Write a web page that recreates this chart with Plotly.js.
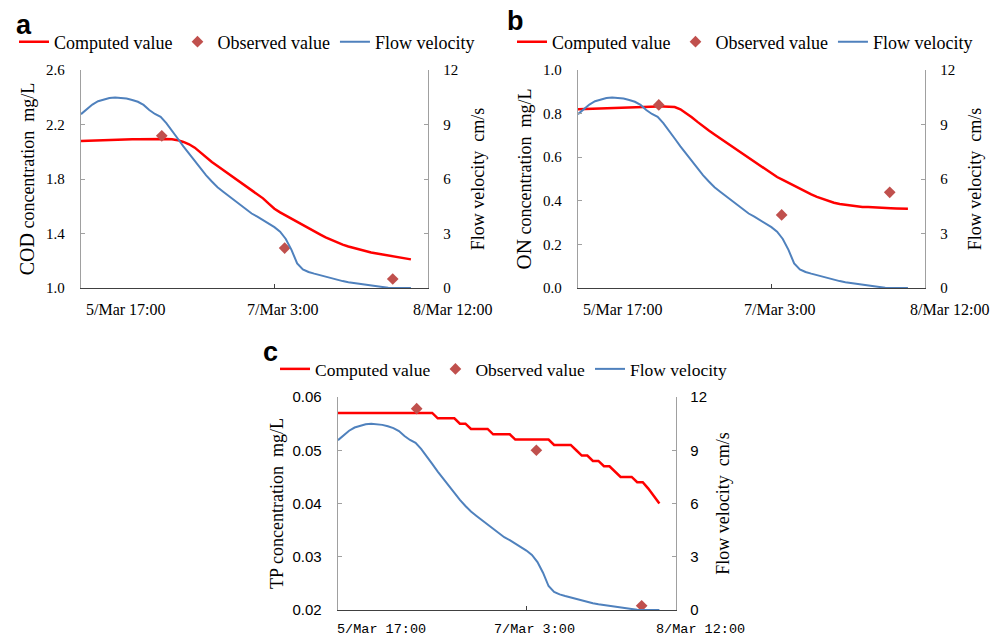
<!DOCTYPE html>
<html>
<head>
<meta charset="utf-8">
<script src="https://cdn.plot.ly/plotly-3.0.1.min.js"></script>
<style>
  html, body { margin: 0; padding: 0; background: #ffffff; }
  #chart { width: 1005px; height: 638px; }
</style>
</head>
<body>
<div id="chart"></div>
<script>
// Hours elapsed since 5/Mar 17:00
const hours = [0,1,2,3,4,5,6,7,8,9,10,11,12,13,14,15,16,17,18,19,20,21,22,23,24,25,26,27,28,29,
  30,31,32,33,34,35,36,37,38,39,40,41,42,43,44,45,46,47,48,49,50,51,52,53,54,55,56,57,58];

// Flow velocity, cm/s (shared by all three panels)
const flowVelocity = [9.57,9.85,10.10,10.28,10.39,10.46,10.49,10.47,10.43,10.35,10.25,10.08,9.80,9.58,9.42,
  9.08,8.68,8.23,7.80,7.40,6.98,6.55,6.20,5.86,5.55,5.30,5.05,4.81,4.57,4.33,
  4.10,3.93,3.74,3.55,3.35,3.10,2.70,2.10,1.35,1.02,0.88,0.79,0.70,0.61,0.52,
  0.45,0.38,0.32,0.27,0.23,0.18,0.14,0.10,0.06,0.02,0.00,0.00,0.00,0.00];

// Computed concentrations, mg/L
const codComputed = [2.078,2.080,2.081,2.083,2.084,2.086,2.087,2.089,2.090,2.091,2.092,2.093,2.093,2.093,2.093,
  2.093,2.092,2.085,2.072,2.055,2.030,1.995,1.958,1.925,1.896,1.867,1.838,1.808,1.779,1.750,
  1.722,1.693,1.658,1.619,1.582,1.555,1.531,1.507,1.484,1.461,1.437,1.415,1.393,1.371,1.352,
  1.334,1.318,1.305,1.293,1.280,1.270,1.261,1.253,1.245,1.237,1.230,1.223,1.216,1.210];

const onComputed = [0.820,0.821,0.822,0.824,0.825,0.826,0.827,0.828,0.829,0.830,0.831,0.831,0.832,0.832,0.832,
  0.832,0.832,0.830,0.820,0.803,0.783,0.762,0.741,0.722,0.704,0.686,0.668,0.649,0.631,0.613,
  0.595,0.577,0.559,0.541,0.523,0.509,0.496,0.482,0.468,0.454,0.441,0.429,0.418,0.408,0.399,
  0.391,0.385,0.381,0.377,0.374,0.372,0.371,0.369,0.368,0.367,0.366,0.365,0.365,0.364];

const tpComputed = [0.057,0.057,0.057,0.057,0.057,0.057,0.057,0.057,0.057,0.057,0.057,0.057,0.057,0.057,0.057,
  0.057,0.057,0.057,0.056,0.056,0.056,0.056,0.055,0.055,0.054,0.054,0.054,0.054,0.053,0.053,
  0.053,0.053,0.052,0.052,0.052,0.052,0.052,0.052,0.052,0.051,0.051,0.051,0.051,0.050,0.049,
  0.049,0.048,0.048,0.047,0.047,0.046,0.045,0.045,0.045,0.044,0.044,0.0428,0.0414,0.040];

// Observed samples
const observedHours = [14.2, 35.8, 54.8];
const codObserved = [2.117, 1.293, 1.066];
const onObserved = [0.840, 0.335, 0.439];
const tpObserved = [0.0578, 0.0500, 0.0208];

// Time-axis labels and where they sit along the time axis (hours)
const timeLabels = ['5/Mar 17:00', '7/Mar 3:00', '8/Mar 12:00'];
const timeLabelPos = [7.9, 35.5, 65.4];
const midTick = [34];

const W = 1005, H = 638;
const fx = p => p / W;
const fy = p => 1 - p / H;

const RED = '#FF0000', BLUE = '#4F81BD', OBS = '#C0504D';
const XLINE = '#404040', YLINE = '#A0A0A0';
const SERIF = 'Liberation Serif, Times New Roman, serif';
const SANS = 'Liberation Sans, Arial, sans-serif';
const MONO = 'Liberation Mono, Courier New, monospace';
const XMAX = 61;

function seriesFor(computed, observed, xa, yl, yr, legendId) {
  return [
    { x: hours, y: computed, xaxis: xa, yaxis: yl, type: 'scatter', mode: 'lines',
      name: 'Computed value', legend: legendId, line: { color: RED, width: 2.5 } },
    { x: observedHours, y: observed, xaxis: xa, yaxis: yl, type: 'scatter', mode: 'markers',
      name: 'Observed value', legend: legendId,
      marker: { symbol: 'diamond', size: 9, color: OBS } },
    { x: hours, y: flowVelocity, xaxis: xa, yaxis: yr, type: 'scatter', mode: 'lines',
      name: 'Flow velocity', legend: legendId, line: { color: BLUE, width: 2 } }
  ];
}

const data = [].concat(
  seriesFor(codComputed, codObserved, 'x', 'y', 'y2', 'legend'),
  seriesFor(onComputed, onObserved, 'x2', 'y3', 'y4', 'legend2'),
  seriesFor(tpComputed, tpObserved, 'x3', 'y5', 'y6', 'legend3')
);

function mainX(left, right, yId) {
  return { domain: [fx(left), fx(right)], range: [0, XMAX], anchor: yId,
    tickmode: 'array', tickvals: midTick, ticktext: [''], showticklabels: false,
    ticks: 'inside', ticklen: 4, tickcolor: XLINE, tickwidth: 1,
    showline: true, linecolor: XLINE, linewidth: 1.4,
    showgrid: false, zeroline: false, fixedrange: true };
}
function leftY(xId, top, bottom, range, dtick, fmt, title, tickFont, standoffLbl, standoffTitle) {
  return { anchor: xId, domain: [fy(bottom), fy(top)], range: range, tickmode: 'linear', tick0: range[0], dtick: dtick,
    tickformat: fmt, ticks: 'inside', ticklen: 4, tickcolor: YLINE,
    showline: true, linecolor: YLINE, linewidth: 1.3, showgrid: false, zeroline: false,
    tickfont: tickFont, ticklabelstandoff: standoffLbl,
    title: { text: title, font: { family: SERIF, size: 18, color: '#000' }, standoff: standoffTitle },
    fixedrange: true };
}
function rightY(overlay, xId, tickFont, standoffLbl, standoffTitle) {
  return { overlaying: overlay, side: 'right', anchor: xId, range: [0, 12], tickmode: 'linear', tick0: 0, dtick: 3,
    ticks: 'inside', ticklen: 4, tickcolor: YLINE,
    showline: true, linecolor: YLINE, linewidth: 1.3, showgrid: false, zeroline: false,
    tickfont: tickFont, ticklabelstandoff: standoffLbl,
    title: { text: 'Flow velocity\u00a0\u00a0cm/s', font: { family: SERIF, size: 18, color: '#000' }, standoff: standoffTitle },
    fixedrange: true };
}
function legendAt(left, midY, size) {
  return { orientation: 'h', x: fx(left), y: fy(midY), xanchor: 'left', yanchor: 'middle',
    bgcolor: 'rgba(0,0,0,0)', borderwidth: 0, itemwidth: 30, itemclick: false, itemdoubleclick: false,
    font: { family: SERIF, size: size, color: '#000' }, tracegroupgap: 0 };
}
// Time labels along each panel's time axis, positioned in axis-domain fractions
function timeLabelAnnotations(xId, yId, font, drop) {
  return timeLabels.map((t, i) => ({
    text: t, xref: xId + ' domain', yref: yId + ' domain',
    x: timeLabelPos[i] / XMAX, y: 0, xanchor: 'center', yanchor: 'top', yshift: -drop,
    showarrow: false, font: font
  }));
}

const serifTick = { family: SERIF, size: 15, color: '#000' };
const timeFont = { family: SERIF, size: 16, color: '#000' };
const sansTick = { family: SANS, size: 15, color: '#000' };
const monoTick = { family: MONO, size: 13.5, color: '#000' };
const panelFont = { family: SANS, size: 27, color: '#000' };

const layout = {
  width: W, height: H,
  margin: { l: 0, r: 0, t: 0, b: 0 },
  paper_bgcolor: '#ffffff', plot_bgcolor: 'rgba(0,0,0,0)',
  showlegend: true,
  font: { family: SERIF, color: '#000' },

  // panel a
  xaxis: mainX(81, 428, 'y'),
  yaxis: leftY('x', 70, 288, [1.0, 2.6], 0.4, '.1f',
    '<span style="font-size:20px">COD</span> concentration\u00a0\u00a0mg/L', serifTick, 12, 6),
  yaxis2: rightY('y', 'x', serifTick, 11, 14),

  // panel b
  xaxis2: mainX(578, 925, 'y3'),
  yaxis3: leftY('x2', 70, 288, [0, 1.0], 0.2, '.1f',
    '<span style="font-size:21px">ON</span> concentration\u00a0\u00a0mg/L', serifTick, 12, 6),
  yaxis4: rightY('y3', 'x2', serifTick, 11, 14),

  // panel c
  xaxis3: mainX(338, 676, 'y5'),
  yaxis5: leftY('x3', 397, 610, [0.02, 0.06], 0.01, '.2f',
    'TP concentration\u00a0\u00a0mg/L', sansTick, 12, 4),
  yaxis6: rightY('y5', 'x3', sansTick, 10, 10),

  legend: legendAt(14, 42, 18),
  legend2: legendAt(512, 42, 18),
  legend3: legendAt(275, 369, 17.5),

  annotations: [].concat(
    timeLabelAnnotations('x', 'y', timeFont, 11),
    timeLabelAnnotations('x2', 'y3', timeFont, 11),
    timeLabelAnnotations('x3', 'y5', monoTick, 10),
    [
      { text: '<b>a</b>', x: fx(14), y: fy(25), xref: 'paper', yref: 'paper', xanchor: 'left', yanchor: 'middle',
        showarrow: false, font: panelFont },
      { text: '<b>b</b>', x: fx(505), y: fy(21), xref: 'paper', yref: 'paper', xanchor: 'left', yanchor: 'middle',
        showarrow: false, font: panelFont },
      { text: '<b>c</b>', x: fx(261), y: fy(352), xref: 'paper', yref: 'paper', xanchor: 'left', yanchor: 'middle',
        showarrow: false, font: panelFont }
    ]
  )
};

Plotly.newPlot('chart', data, layout, { displayModeBar: false, staticPlot: true });
</script>
</body>
</html>
